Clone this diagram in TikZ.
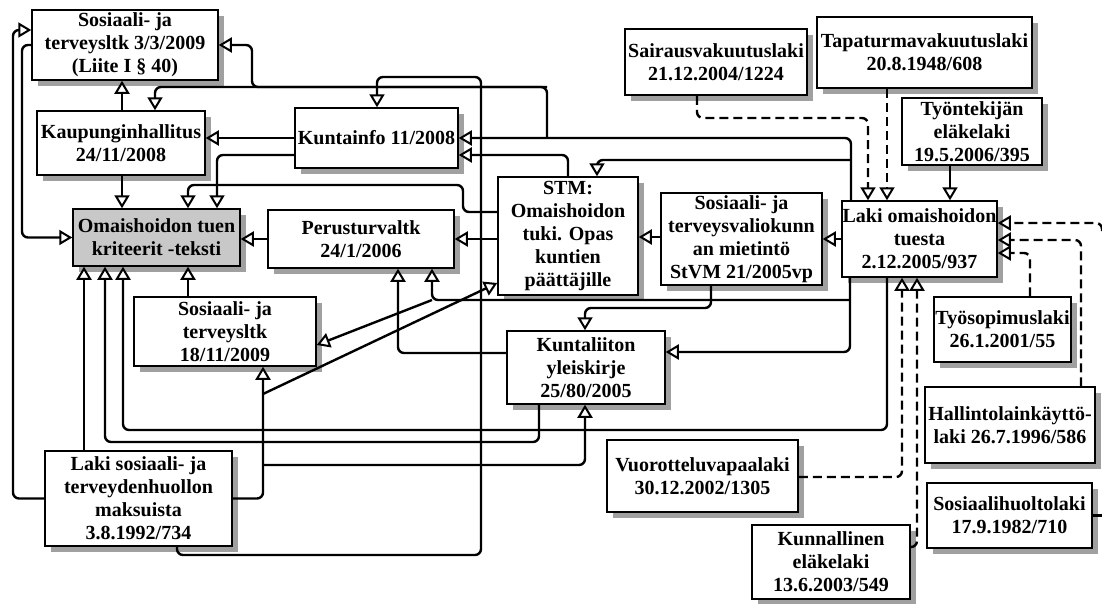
\documentclass[tikz,border=0pt]{standalone}
\usepackage{fontspec}
\setmainfont{Liberation Serif}
\usetikzlibrary{arrows.meta,shadows}
\definecolor{shadowgray}{RGB}{160,160,160}
\definecolor{nodegray}{RGB}{200,200,200}
\tikzset{
  box/.style={draw, line width=1.5pt, fill=white, align=center, inner sep=0pt,
    font=\bfseries\fontsize{20}{23}\selectfont,
    drop shadow={shadow xshift=6pt, shadow yshift=-6pt, fill=shadowgray, opacity=1}},
  conn/.style={line width=2.4pt, rounded corners=6pt,
    -{Triangle[length=13pt,width=15pt,fill=white,line width=2pt]}},
  plain/.style={line width=2.4pt, rounded corners=6pt},
  dsh/.style={dash pattern=on 9pt off 5pt},
}
\begin{document}
\begin{tikzpicture}[x=1pt,y=-1pt]
\fill[white] (0,0) rectangle (1102,603);
\useasboundingbox (0,0) rectangle (1102,603);
% nodes
\node[box, minimum width=186pt, minimum height=70pt] (S1) at (125,45) {Sosiaali- ja\\terveysltk 3/3/2009\\(Liite I § 40)};
\node[box, minimum width=168pt, minimum height=64pt] (KH) at (121,143) {Kaupunginhallitus\\24/11/2008};
\node[box, minimum width=163pt, minimum height=60pt] (KI) at (376.5,138) {Kuntainfo 11/2008};
\node[box, fill=nodegray, minimum width=167pt, minimum height=57pt] (OT) at (156.5,237.5) {Omaishoidon tuen\\kriteerit -teksti};
\node[box, minimum width=186pt, minimum height=58pt] (PT) at (361,239) {Perusturvaltk\\24/1/2006};
\node[box, minimum width=140pt, minimum height=118pt] (STM) at (568,236) {STM:\\Omaishoidon\\tuki. Opas\\kuntien\\päättäjille};
\node[box, minimum width=161pt, minimum height=92pt] (SV) at (741.5,239) {Sosiaali- ja\\terveysvaliokunn\\an mietintö\\StVM 21/2005vp};
\node[box, minimum width=155pt, minimum height=76pt] (LO) at (919.5,239) {Laki omaishoidon\\tuesta\\2.12.2005/937};
\node[box, minimum width=182pt, minimum height=69pt] (ST2) at (225,331.5) {Sosiaali- ja\\terveysltk\\18/11/2009};
\node[box, minimum width=158pt, minimum height=73pt] (KL) at (586,367.5) {Kuntaliiton\\yleiskirje\\25/80/2005};
\node[box, minimum width=187pt, minimum height=95pt] (LS) at (138.5,498.5) {Laki sosiaali- ja\\terveydenhuollon\\maksuista\\3.8.1992/734};
\node[box, minimum width=182pt, minimum height=66pt] (SA) at (716,62) {Sairausvakuutuslaki\\21.12.2004/1224};
\node[box, minimum width=215pt, minimum height=71pt] (TA) at (924.5,52.5) {Tapaturmavakuutuslaki\\20.8.1948/608};
\node[box, minimum width=140pt, minimum height=67pt] (TE) at (972,131.5) {Työntekijän\\eläkelaki\\19.5.2006/395};
\node[box, minimum width=137pt, minimum height=65pt] (TS) at (1002.5,329.5) {Työsopimuslaki\\26.1.2001/55};
\node[box, minimum width=170pt, minimum height=76pt] (HA) at (1010,425) {Hallintolainkäyttö-\\laki 26.7.1996/586};
\node[box, minimum width=165pt, minimum height=65pt] (SH) at (1009.5,515.5) {Sosiaalihuoltolaki\\17.9.1982/710};
\node[box, minimum width=158pt, minimum height=74pt] (KE) at (831,562) {Kunnallinen\\eläkelaki\\13.6.2003/549};
\node[box, minimum width=191pt, minimum height=72pt] (VU) at (702.5,476) {Vuorotteluvapaalaki\\30.12.2002/1305};
% connectors
\draw[conn] (LS.west) -| (13,30) -- (S1.west |- 0,30);
\draw[conn] (S1.west) -| (22,237.5) -- (OT.west);
\draw[conn] (KH.north -| 122,0) -- (S1.south -| 122,0);
\draw[conn] (KH.south -| 122,0) -- (OT.north -| 122,0);
\draw[conn] (KI.west) -- (KH.east |- KI.west);
\draw[conn] (KI.west |- 0,155) -| (OT.north -| 217,0);
\draw[conn] (LO.north -| 851,0) |- (KI.east);
\draw[conn] (851,160) -| (STM.north -| 597,0);
\draw[conn] (547,138) |- (155,87) -- (KH.north -| 155,0);
\draw[conn] (547,87) -| (252,45) -- (S1.east);
\draw[conn] (LO.west) -- (SV.east);
\draw[conn] (LO.south -| 850,0) |- (KL.east |- 0,352);
\draw[conn] (850,300) -| (PT.south -| 432,0);
\draw[conn] (432,300) -- (ST2.east |- 0,345);
\draw[conn] (LO.south -| 887,0) |- (123,430) -- (OT.south -| 123,0);
\draw[conn] (STM.west |- 0,212) -| (463,185) -| (OT.north -| 188,0);
\draw[conn] (STM.west |- 0,239) -- (PT.east);
\draw[conn] (STM.north -| 568,0) |- (KI.east |- 0,155);
\draw[conn] (SV.west |- 0,237) -- (STM.east |- 0,237);
\draw[conn] (SV.south -| 711,0) |- (585,308) -- (KL.north -| 585,0);
\draw[conn] (KL.west |- 0,353) -| (PT.south -| 398,0);
\draw[conn] (KL.south -| 539,0) |- (105,442) -- (OT.south -| 105,0);
\draw[conn] (LS.north -| 84,0) -- (OT.south -| 84,0);
\draw[conn] (LS.east) -| (ST2.south -| 263,0);
\draw[conn] (263,465) -| (KL.south -| 585,0);
\draw[conn] (263,394) -- (STM.west |- 0,283);
\draw[conn] (LS.south -| 177,0) |- (481,555) |- (377,77) -- (KI.north -| 377,0);
\draw[conn] (PT.west) -- (OT.east |- PT.west);
\draw[conn] (ST2.north -| 188,0) -- (OT.south -| 188,0);
\draw[conn,dsh] (SA.south -| 697,0) |- (868,118) -- (LO.north -| 868,0);
\draw[conn,dsh] (TA.south -| 887,0) -- (LO.north -| 887,0);
\draw[conn] (TE.south -| 950,0) -- (LO.north -| 950,0);
\coordinate (R1) at (1102,231);
\draw[conn,dsh] (R1) |- (LO.east |- 0,223);
\draw[conn,dsh] (HA.north -| 1081,0) |- (LO.east |- 0,240);
\draw[conn,dsh] (TS.north -| 1030,0) |- (LO.east |- 0,253);
\draw[conn,dsh] (VU.east |- 0,477) -| (LO.south -| 902,0);
\draw[conn,dsh] (KE.east |- 0,547) -| (LO.south -| 917,0);
\coordinate (R2) at (1102,515.5);
\draw[plain] (SH.east) -- (R2);
\end{tikzpicture}
\end{document}
